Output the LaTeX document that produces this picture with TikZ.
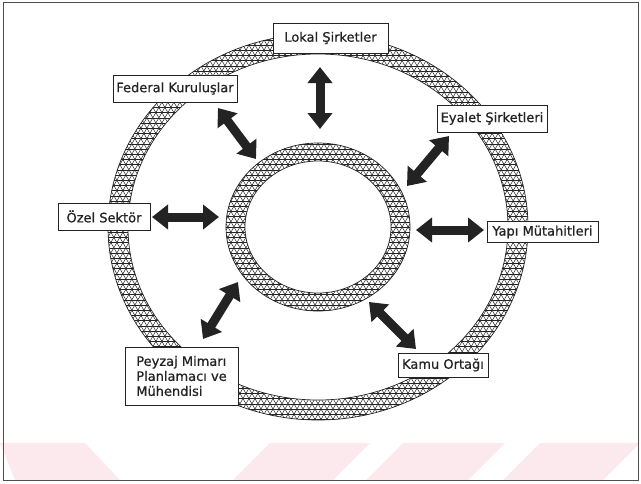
\documentclass[tikz,border=0pt]{standalone}
\usepackage{fontspec}
\setmainfont{DejaVu Sans}
\newfontface\lblfont{DejaVu Sans}[FakeBold=0.7]
\usetikzlibrary{arrows.meta}
\definecolor{wm}{RGB}{252,233,237}
\definecolor{ink}{RGB}{35,35,35}
\begin{document}
\begin{tikzpicture}[x=1pt,y=-1pt,
  lbl/.style={draw=ink, line width=0.7pt, fill=white, font=\lblfont\fontsize{13}{15}\selectfont, inner sep=0pt, align=center, text=ink},
  dbl/.style={line width=9pt, draw=ink, {Triangle[width=24pt,length=16pt]}-{Triangle[width=24pt,length=16pt]}},
  hatch/.style={line width=0.5pt, draw=ink},
  ringline/.style={line width=0.7pt, draw=ink}
]
\useasboundingbox (0,0) rectangle (641,483);
% watermark
\fill[wm] (0,443) -- (85,443) -- (120,480) -- (15,480) -- cycle;
\fill[wm] (270,443) -- (370,443) -- (333,480) -- (233,480) -- cycle;
\fill[wm] (403,443) -- (505,443) -- (468,480) -- (366,480) -- cycle;
\fill[wm] (540,443) -- (640,443) -- (603,480) -- (503,480) -- cycle;
% frame
\draw[draw=ink!80, line width=1pt] (3,2) rectangle (638,480);

\coordinate (c) at (318,227);
% outer ring
\begin{scope}
  \clip (c) ellipse [x radius=210, y radius=193];
  \foreach \a in {0,60,120}{
    \begin{scope}[rotate around={\a:(c)}]
      \foreach \k in {-42,...,42}{
        \draw[hatch] (318-260,227+\k*5.2) -- (318+260,227+\k*5.2);
      }
    \end{scope}
  }
\end{scope}
\fill[white] (c) ellipse [x radius=190, y radius=173];
\draw[ringline] (c) ellipse [x radius=210, y radius=193];
\draw[ringline] (c) ellipse [x radius=190, y radius=173];
% inner ring
\begin{scope}
  \clip (c) ellipse [x radius=92, y radius=84];
  \foreach \a in {0,60,120}{
    \begin{scope}[rotate around={\a:(c)}]
      \foreach \k in {-20,...,20}{
        \draw[hatch] (318-120,227+\k*5.2) -- (318+120,227+\k*5.2);
      }
    \end{scope}
  }
\end{scope}
\fill[white] (c) ellipse [x radius=73, y radius=66];
\draw[ringline] (c) ellipse [x radius=92, y radius=84];
\draw[ringline] (c) ellipse [x radius=73, y radius=66];

% labels
\node[lbl, minimum width=115, minimum height=30] (lokal) at (330.5,38) {Lokal Şirketler};
\node[lbl, minimum width=124, minimum height=27] (federal) at (175,88.5) {Federal Kuruluşlar};
\node[lbl, minimum width=110, minimum height=27] (eyalet) at (492,118.5) {Eyalet Şirketleri};
\node[lbl, minimum width=92, minimum height=27] (ozel) at (104,216.5) {Özel Sektör};
\node[lbl, minimum width=111, minimum height=21] (yapi) at (542.5,232) {Yapı Mütahitleri};
\node[lbl, minimum width=113, minimum height=58, align=left] (peyzaj) at (181.5,376) {Peyzaj Mimarı\\Planlamacı ve\\Mühendisi};
\node[lbl, minimum width=90, minimum height=24] (kamu) at (443,365) {Kamu Ortağı};

% arrow end points
\coordinate (l1) at (320,67);  \coordinate (l2) at (320,129);
\coordinate (f1) at (218,108); \coordinate (f2) at (256,159);
\coordinate (e1) at (449,136); \coordinate (e2) at (407,186);
\coordinate (o1) at (152,217); \coordinate (o2) at (219,217);
\coordinate (y1) at (416,230); \coordinate (y2) at (484,230);
\coordinate (p1) at (238,282); \coordinate (p2) at (203,339);
\coordinate (k1) at (369,302); \coordinate (k2) at (416,349);
\foreach \s/\t in {l1/l2,f1/f2,e1/e2,o1/o2,y1/y2,p1/p2,k1/k2}{
  \draw[dbl] (\s) -- (\t);
}
\end{tikzpicture}
\end{document}
